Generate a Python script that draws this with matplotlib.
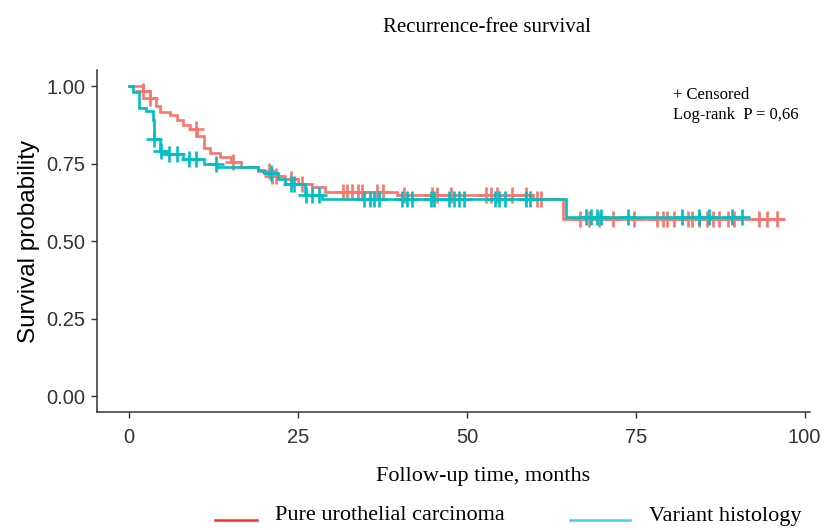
import numpy as np
import matplotlib
matplotlib.use('Agg')
import matplotlib.pyplot as plt
from matplotlib.lines import Line2D

# ── DATA ──────────────────────────────────────────────────────
# Pure urothelial carcinoma: KM step points (time, survival after step)
puc_time = [0, 2, 3, 4, 4.5, 6, 7, 8, 9, 10, 11, 12, 13.5, 15, 16.5,
            19, 21, 23, 25, 27, 29, 39.6, 59.8, 64.3]
puc_surv = [1.0, 0.985, 0.96, 0.935, 0.915, 0.905, 0.89, 0.875, 0.86, 0.84,
            0.80, 0.785, 0.77, 0.755, 0.74, 0.725, 0.71, 0.70, 0.685, 0.675,
            0.66, 0.65, 0.635, 0.57]
puc_end = 96.6
puc_cens = [2, 3, 9.9, 15.3, 20.7, 21.2, 21.8, 24, 25.6, 31.6, 32.3, 33.0,
            33.8, 34.5, 36.7, 37.5, 40.7, 44.9, 45.6, 47.7, 52.9, 53.6, 54.4,
            56.7, 58.8, 60.4, 61.0, 66.7, 68.1, 69.6, 71.6, 74.8, 78.2, 79.0,
            79.7, 80.7, 82.7, 83.4, 84.4, 85.5, 86.4, 87.4, 88.6, 89.6, 93.3,
            94.4, 95.9]

# Variant histology
var_time = [0, 0.5, 1.5, 2.5, 3.5, 3.7, 4.5, 5.5, 8, 11, 13, 19, 20, 22,
            23, 26, 28.5, 64.7]
var_surv = [1.0, 0.98, 0.93, 0.92, 0.89, 0.83, 0.79, 0.78, 0.765, 0.75,
            0.74, 0.73, 0.72, 0.70, 0.685, 0.65, 0.635, 0.578]
var_end = 90.8
var_cens = [3.7, 4.7, 5.9, 7.0, 8.9, 9.9, 12.9, 21.0, 24.0, 24.4, 26.2, 27.0,
            28.1, 34.8, 35.6, 36.3, 37.0, 40.4, 41.2, 41.8, 44.7, 45.2, 47.4,
            48.1, 48.9, 49.6, 54.1, 54.8, 55.6, 58.8, 59.3, 67.7, 68.4, 69.2,
            69.9, 73.8, 81.8, 84.4, 85.8, 89.3, 90.7]

groups = ['Pure urothelial carcinoma', 'Variant histology']
curve_colors = ['#F8766D', '#00BFC4']
legend_colors = ['#ff2a2a', '#3fd3ea']


def km_value(t, times, surv):
    idx = np.searchsorted(times, t, side='right') - 1
    return np.asarray(surv)[idx]


# ── PLOT ──────────────────────────────────────────────────────
W, H = 835, 530
fig = plt.figure(figsize=(W / 100, H / 100), dpi=100)
ax = fig.add_axes([0.116, 0.223, 0.854, 0.644])

for times, surv, end, cens, col in [
        (puc_time, puc_surv, puc_end, puc_cens, curve_colors[0]),
        (var_time, var_surv, var_end, var_cens, curve_colors[1])]:
    tt = list(times) + [end]
    ss = list(surv) + [surv[-1]]
    ax.step(tt, ss, where='post', color=col, lw=1.9, solid_joinstyle='miter')
    ax.plot(cens, km_value(cens, times, surv), ls='none', marker='+',
            ms=11, mew=1.9, color=col)

ax.set_xlim(-4.8, 100.8)
ax.set_ylim(-0.05, 1.05)
ax.set_xticks([0, 25, 50, 75, 100])
ax.set_yticks([0, 0.25, 0.5, 0.75, 1.0])
ax.set_yticklabels(['0.00', '0.25', '0.50', '0.75', '1.00'])

for s in ['top', 'right']:
    ax.spines[s].set_visible(False)
for s in ['left', 'bottom']:
    ax.spines[s].set_color('#333333')
    ax.spines[s].set_linewidth(1.1)
ax.tick_params(length=4, width=1, color='#333333', labelsize=14.5,
               labelcolor='#333333', pad=4)
ax.tick_params(axis='x', pad=8)
for lab in ax.get_xticklabels() + ax.get_yticklabels():
    lab.set_family('Liberation Sans')

ax.set_ylabel('Survival probability', fontsize=17.5, family='Liberation Sans')
ax.yaxis.set_label_coords(-0.080, 0.5)
ax.set_xlabel('Follow-up time, months', fontsize=16, family='Liberation Serif')
ax.xaxis.set_label_coords(0.541, -0.163)

fig.text(487 / W, 1 - 27 / H, 'Recurrence-free survival', ha='center',
         va='center', fontsize=15, family='Liberation Serif')
fig.text(673 / W, 1 - 95 / H, '+ Censored', ha='left', va='center',
         fontsize=12, family='Liberation Serif')
fig.text(673 / W, 1 - 115 / H, 'Log-rank  P = 0,66', ha='left', va='center',
         fontsize=12, family='Liberation Serif')

# legend below the plot, drawn in figure pixels
leg_lines = [(215, 257), (570, 630)]
leg_text_x = [275, 649]
for (x0, x1), tx, col, name in zip(leg_lines, leg_text_x, legend_colors, groups):
    fig.add_artist(Line2D([x0 / W, x1 / W], [1 - 520 / H, 1 - 520 / H],
                          color=col, lw=1.8, transform=fig.transFigure))
    fig.text(tx / W, 1 - 516 / H, name, ha='left', va='center', fontsize=16,
             family='Liberation Serif')

fig.savefig('out.png', dpi=100)
